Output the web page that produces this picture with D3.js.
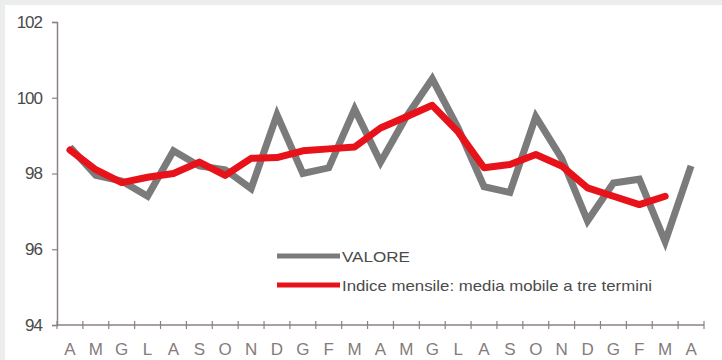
<!DOCTYPE html>
<html><head><meta charset="utf-8">
<script src="https://cdn.jsdelivr.net/npm/d3@7"></script>
<style>html,body{margin:0;padding:0;background:#eceeee;}svg{display:block;}</style>
</head><body>
<script>
const months = ["A","M","G","L","A","S","O","N","D","G","F","M","A","M","G","L","A","S","O","N","D","G","F","M","A"];
const valore = [98.7,97.95,97.8,97.4,98.6,98.2,98.1,97.6,99.55,98.0,98.15,99.7,98.3,99.5,100.5,99.2,97.65,97.5,99.5,98.4,96.75,97.75,97.85,96.2,98.2];
const media  = [98.62,98.1,97.76,97.9,98.0,98.3,97.95,98.4,98.42,98.6,98.65,98.7,99.2,99.5,99.8,99.1,98.15,98.24,98.5,98.2,97.62,97.4,97.18,97.4,null];
const yTicks = [94,96,98,100,102];
const legendLabels = ["VALORE","Indice mensile: media mobile a tre termini"];

const W=722,H=360;
const svg=d3.select("body").append("svg").attr("width",W).attr("height",H);
svg.append("rect").attr("x",5).attr("y",5).attr("width",W-5).attr("height",H-5).attr("fill","#ffffff");

const x0=57,x1=704,yTop=22,yBot=325;
const xb=d3.scaleBand().domain(d3.range(months.length)).range([x0,x1]);
const y=d3.scaleLinear().domain([94,102]).range([yBot,yTop]);
const axisCol="#8c8282";
const font="Liberation Sans, Arial, sans-serif";

// y axis
const gy=svg.append("g").attr("transform",`translate(${x0},0)`)
  .call(d3.axisLeft(y).tickValues(yTicks).tickSize(5).tickPadding(10));
gy.select(".domain").attr("stroke",axisCol).attr("stroke-width",1.5);
gy.selectAll(".tick line").attr("stroke",axisCol).attr("stroke-width",1.2);
gy.selectAll(".tick text").attr("fill","#4a4a4a").attr("font-family",font)
  .attr("font-size",17).attr("letter-spacing","-1px");

// x axis
const gx=svg.append("g").attr("transform",`translate(0,${yBot})`);
gx.append("line").attr("x1",x0).attr("x2",x1).attr("stroke",axisCol).attr("stroke-width",1.5);
const bounds=d3.range(months.length+1).map(i=>i<months.length?xb(i):x1);
gx.selectAll("line.tk").data(bounds).join("line").attr("class","tk")
  .attr("x1",d=>d).attr("x2",d=>d).attr("y1",-4).attr("y2",4).attr("stroke",axisCol).attr("stroke-width",1.2);
gx.selectAll("text").data(months).join("text")
  .attr("x",(d,i)=>xb(i)+xb.bandwidth()/2).attr("y",30)
  .attr("text-anchor","middle").attr("fill","#857b7b")
  .attr("font-family",font).attr("font-size",17)
  .text(d=>d);

const cx=i=>xb(i)+xb.bandwidth()/2;
const line=d3.line().defined(d=>d!=null).x((d,i)=>cx(i)).y(d=>y(d));

svg.append("path").datum(valore).attr("d",line).attr("fill","none")
  .attr("stroke","#7b7b7b").attr("stroke-width",7).attr("stroke-linejoin","miter");
svg.append("path").datum(media).attr("d",line).attr("fill","none")
  .attr("stroke","#e8121a").attr("stroke-width",7).attr("stroke-linejoin","round").attr("stroke-linecap","round");

// legend
const lg=svg.append("g");
const legCols=["#7b7b7b","#e8121a"];
const legW=[68,310];
[256,285].forEach((ly,k)=>{
  lg.append("line").attr("x1",277).attr("x2",340).attr("y1",ly).attr("y2",ly)
    .attr("stroke",legCols[k]).attr("stroke-width",5);
  lg.append("text").attr("x",342).attr("y",ly+1).attr("dy","0.35em")
    .attr("fill","#4a4a4a").attr("font-family",font)
    .attr("font-size",15).attr("textLength",legW[k]).attr("lengthAdjust","spacingAndGlyphs").text(legendLabels[k]);
});
</script>
</body></html>
